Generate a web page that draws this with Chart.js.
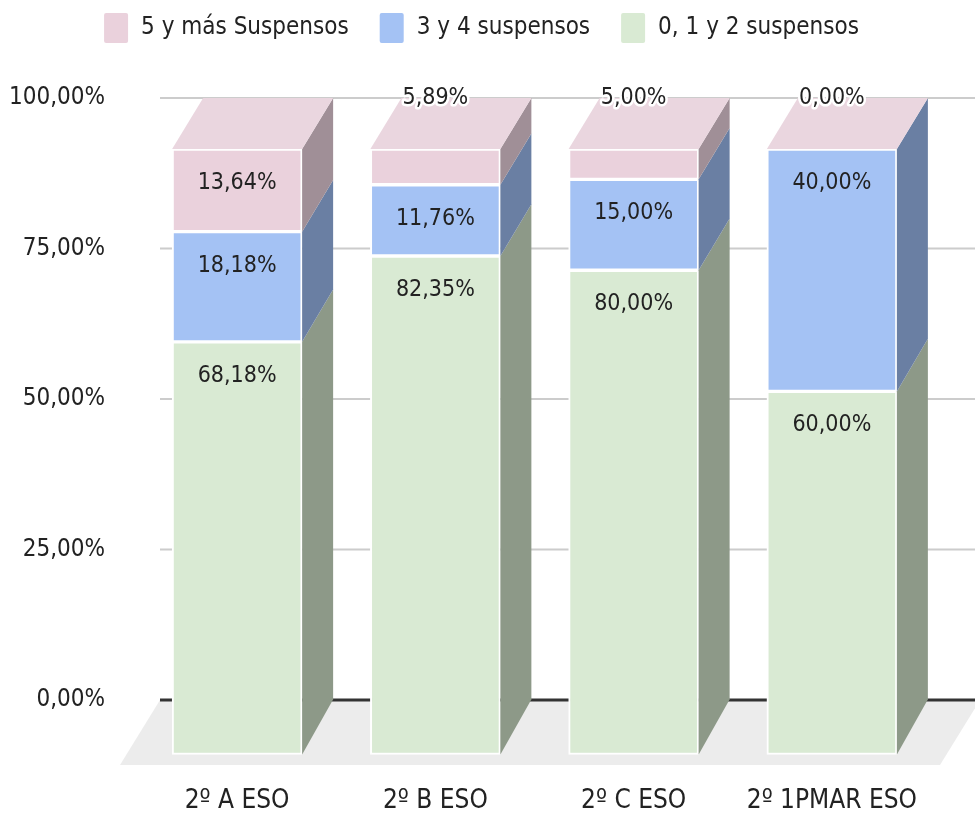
<!DOCTYPE html>
<html>
<head>
<meta charset="utf-8">
<script src="https://cdn.jsdelivr.net/npm/chart.js@4.4.0/dist/chart.umd.min.js"></script>
<style>
  html, body { margin: 0; padding: 0; background: #fff; }
</style>
</head>
<body>
<canvas id="chart" width="975" height="819"></canvas>
<script>
const groups = ['2º A ESO', '2º B ESO', '2º C ESO', '2º 1PMAR ESO'];
const seriesNames = ['0, 1 y 2 suspensos', '3 y 4 suspensos', '5 y más Suspensos'];
const lowFail = [68.18, 82.35, 80.00, 60.00];
const midFail = [18.18, 11.76, 15.00, 40.00];
const highFail = [13.64, 5.89, 5.00, 0.00];
const yTicks = [0, 25, 50, 75, 100];

const FONT = '"DejaVu Sans Condensed", "Liberation Sans Narrow", sans-serif';
const frontColor = ['#d9ead3', '#a4c2f4', '#ead1dc'];
const sideColor = ['#8d9988', '#6a7fa3', '#a08f97'];
const topColor = '#ead6df';

// front faces sit in front of the grid plane: shifted left and down
const DX = -31;
const SY = 607 / 603;
const OY = 148 - 97 * SY;

function pct(v) {
    return v.toFixed(2).replace('.', ',') + '%';
}

const depth3d = {
    id: 'depth3d',
    beforeDatasetsDraw(chart) {
        const ctx = chart.ctx;
        const y = chart.scales.y;
        const y0 = y.getPixelForValue(0);

        ctx.save();
        ctx.fillStyle = '#ececec';
        ctx.beginPath();
        ctx.moveTo(160, y0);
        ctx.lineTo(980, y0);
        ctx.lineTo(940, y0 + 65);
        ctx.lineTo(120, y0 + 65);
        ctx.closePath();
        ctx.fill();

        yTicks.forEach(function (v) {
            const py = y.getPixelForValue(v);
            ctx.strokeStyle = v === 0 ? '#333333' : '#cccccc';
            ctx.lineWidth = v === 0 ? 3 : 2;
            ctx.beginPath();
            ctx.moveTo(160, py);
            ctx.lineTo(975, py);
            ctx.stroke();
        });
        ctx.restore();

        ctx.save();
        ctx.transform(1, 0, 0, SY, DX, OY);
    },
    afterDatasetsDraw(chart) {
        const ctx = chart.ctx;
        ctx.restore();

        const n = chart.data.datasets.length;
        const lastMeta = chart.getDatasetMeta(n - 1);

        // side faces
        for (let d = 0; d < n; d++) {
            const meta = chart.getDatasetMeta(d);
            meta.data.forEach(function (bar) {
                const p = bar.getProps(['x', 'y', 'base', 'width'], true);
                if (Math.abs(p.base - p.y) < 0.5) return;
                const bR = p.x + p.width / 2;
                const fR = bR + DX;
                ctx.fillStyle = sideColor[d];
                ctx.beginPath();
                ctx.moveTo(fR, OY + SY * p.y);
                ctx.lineTo(bR, p.y);
                ctx.lineTo(bR, p.base);
                ctx.lineTo(fR, OY + SY * p.base);
                ctx.closePath();
                ctx.fill();
            });
        }

        // top faces
        lastMeta.data.forEach(function (bar) {
            const p = bar.getProps(['x', 'y', 'width'], true);
            const bL = p.x - p.width / 2;
            const bR = p.x + p.width / 2;
            const fT = OY + SY * p.y;
            ctx.fillStyle = topColor;
            ctx.beginPath();
            ctx.moveTo(bL + DX, fT);
            ctx.lineTo(bR + DX, fT);
            ctx.lineTo(bR, p.y);
            ctx.lineTo(bL, p.y);
            ctx.closePath();
            ctx.fill();
        });

        // value labels
        ctx.save();
        ctx.font = '23px ' + FONT;
        ctx.textAlign = 'center';
        ctx.textBaseline = 'middle';
        ctx.lineJoin = 'round';
        for (let d = 0; d < n; d++) {
            const meta = chart.getDatasetMeta(d);
            const values = chart.data.datasets[d].data;
            meta.data.forEach(function (bar, i) {
                const p = bar.getProps(['x', 'y', 'base'], true);
                const fT = OY + SY * p.y;
                const fB = OY + SY * p.base;
                const text = pct(values[i]);
                const cx = p.x + DX;
                if (fB - fT > 45) {
                    ctx.fillStyle = '#222222';
                    ctx.fillText(text, cx, fT + 34);
                } else {
                    const top = lastMeta.data[i].getProps(['y'], true).y;
                    ctx.strokeStyle = '#ffffff';
                    ctx.lineWidth = 5;
                    ctx.strokeText(text, cx, top);
                    ctx.fillStyle = '#222222';
                    ctx.fillText(text, cx, top);
                }
            });
        }
        ctx.restore();
    }
};

const datasets = [lowFail, midFail, highFail].map(function (values, k) {
    return {
        label: seriesNames[k],
        data: values,
        backgroundColor: frontColor[k],
        borderColor: '#ffffff',
        borderWidth: 2,
        borderSkipped: false,
        barThickness: 130,
        clip: false
    };
});

new Chart(document.getElementById('chart'), {
    type: 'bar',
    data: {
        labels: groups,
        datasets: datasets
    },
    plugins: [depth3d],
    options: {
        responsive: false,
        animation: false,
        layout: {
            padding: { top: -18, right: 13, left: 0, bottom: 0 }
        },
        plugins: {
            tooltip: { enabled: false },
            legend: {
                reverse: true,
                labels: {
                    boxWidth: 26,
                    boxHeight: 32,
                    padding: 30,
                    color: '#222222',
                    font: { family: FONT, size: 24 },
                    useBorderRadius: true,
                    borderRadius: 3
                }
            },
            // empty spacer between the legend and the plot
            subtitle: {
                display: true,
                text: ' ',
                weight: 500,
                font: { size: 1, lineHeight: 1 },
                padding: { top: 43, bottom: 0 }
            }
        },
        scales: {
            x: {
                stacked: true,
                grid: {
                    display: true,
                    drawOnChartArea: false,
                    drawTicks: true,
                    tickLength: 86,
                    color: 'rgba(0,0,0,0)'
                },
                border: { display: false },
                afterFit: function (scale) { scale.height = 119; },
                ticks: {
                    color: '#222222',
                    font: { family: FONT, size: 26 },
                    padding: 0,
                    labelOffset: DX,
                    maxRotation: 0,
                    autoSkip: false
                }
            },
            y: {
                stacked: true,
                min: 0,
                max: 100,
                grid: {
                    display: true,
                    drawOnChartArea: false,
                    drawTicks: true,
                    tickLength: 64,
                    color: 'rgba(0,0,0,0)'
                },
                border: { display: false },
                afterFit: function (scale) { scale.width = 169; },
                ticks: {
                    stepSize: 25,
                    padding: 0,
                    color: '#222222',
                    font: { family: FONT, size: 24 },
                    callback: function (v) { return pct(v); }
                }
            }
        }
    }
});
</script>
</body>
</html>
